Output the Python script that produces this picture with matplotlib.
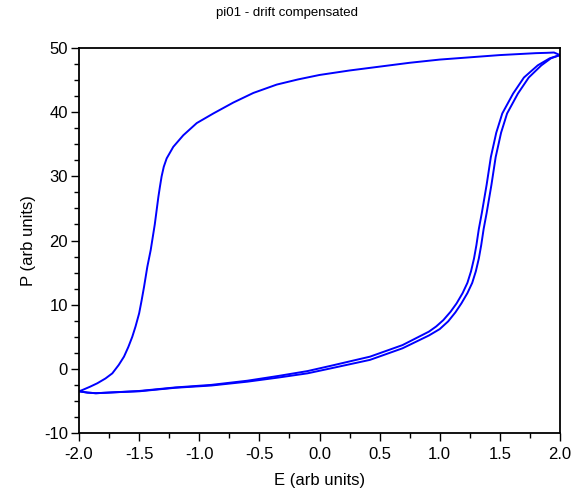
import matplotlib.pyplot as plt
from matplotlib.ticker import MultipleLocator, FormatStrFormatter

# upper branch, E sweeping down from +2 to -2
E_UP = [2.00, 1.95, 1.89, 1.80, 1.50, 1.00, 0.75, 0.50, 0.25, 0.00, -0.18, -0.356,
        -0.55, -0.717, -0.883, -1.021, -1.133, -1.216, -1.271, -1.295, -1.313,
        -1.327, -1.34, -1.37, -1.404, -1.432, -1.459, -1.48, -1.50, -1.53,
        -1.557, -1.59, -1.626, -1.67, -1.723, -1.78, -1.848, -1.91, -1.972, -2.00]
P_UP = [48.9, 49.3, 49.25, 49.2, 48.9, 48.2, 47.7, 47.1, 46.5, 45.8, 45.1, 44.3,
        43.0, 41.5, 39.8, 38.3, 36.4, 34.6, 32.8, 31.5, 30.0,
        28.4, 26.8, 22.5, 18.5, 15.9, 12.8, 10.6, 8.65, 6.6,
        5.0, 3.4, 1.9, 0.6, -0.7, -1.5, -2.25, -2.8, -3.3, -3.5]

# lower branch, E sweeping up from -2 to +2 (first cycle, inner line)
E_LOW_A = [-2.00, -1.93, -1.86, -1.70, -1.50, -1.20, -0.90, -0.60, -0.34, -0.10,
           0.10, 0.42, 0.69, 0.91, 0.97, 1.03, 1.09, 1.14, 1.19, 1.23, 1.26,
           1.285, 1.305, 1.325, 1.35, 1.39, 1.425, 1.47, 1.52, 1.61, 1.70,
           1.815, 1.915, 2.00]
P_LOW_A = [-3.5, -3.7, -3.8, -3.65, -3.45, -2.9, -2.5, -1.85, -1.1, -0.35,
           0.5, 1.9, 3.7, 5.8, 6.6, 7.6, 8.9, 10.2, 11.8, 13.4, 15.2,
           17.2, 19.3, 21.8, 24.3, 28.7, 33.0, 36.8, 39.8, 42.9, 45.4,
           47.3, 48.4, 48.9]

# second cycle, outer line
E_LOW_B = [-2.00, -1.93, -1.86, -1.70, -1.50, -1.20, -0.90, -0.60, -0.34, -0.10,
           0.10, 0.42, 0.69, 0.91, 1.00, 1.07, 1.13, 1.18, 1.23, 1.27, 1.30,
           1.325, 1.345, 1.365, 1.39, 1.43, 1.465, 1.51, 1.56, 1.65, 1.74,
           1.845, 1.925, 2.00]
P_LOW_B = [-3.5, -3.7, -3.8, -3.65, -3.5, -2.95, -2.6, -2.0, -1.35, -0.7,
           0.1, 1.4, 3.2, 5.2, 6.2, 7.4, 8.8, 10.2, 11.8, 13.4, 15.2,
           17.2, 19.3, 21.8, 24.3, 28.7, 33.0, 36.8, 39.8, 42.9, 45.4,
           47.3, 48.4, 48.9]

X_LIM = (-2.0, 2.0)
Y_LIM = (-10, 50)

plt.rcParams["font.family"] = ["Liberation Sans", "DejaVu Sans"]
plt.rcParams["axes.unicode_minus"] = False

fig = plt.figure(figsize=(5.73, 4.92), dpi=100)
ax = fig.add_axes([0.1379, 0.1199, 0.8394, 0.7825])

for e, p in [(E_UP, P_UP), (E_LOW_A, P_LOW_A), (E_LOW_B, P_LOW_B)]:
    ax.plot(e, p, color="#0000ff", lw=1.4)

ax.set_xlim(*X_LIM)
ax.set_ylim(*Y_LIM)

ax.xaxis.set_major_locator(MultipleLocator(0.5))
ax.xaxis.set_minor_locator(MultipleLocator(0.25))
ax.yaxis.set_major_locator(MultipleLocator(10))
ax.yaxis.set_minor_locator(MultipleLocator(2.5))
ax.xaxis.set_major_formatter(FormatStrFormatter("%.1f"))

ax.tick_params(which="both", direction="out", top=False, right=False,
               labelsize=12, width=1.0, colors="black")
ax.tick_params(which="major", length=6)
ax.tick_params(which="minor", length=3.5)
ax.tick_params(axis="y", pad=2)
ax.tick_params(axis="x", pad=4)

for side in ax.spines.values():
    side.set_linewidth(1.3)

ax.set_xlabel("E (arb units)", fontsize=12, labelpad=8)
ax.set_ylabel("P (arb units)", fontsize=12, labelpad=6)
fig.suptitle("pi01 - drift compensated", fontsize=9.5, y=0.986)

fig.savefig("out.png", dpi=100)
